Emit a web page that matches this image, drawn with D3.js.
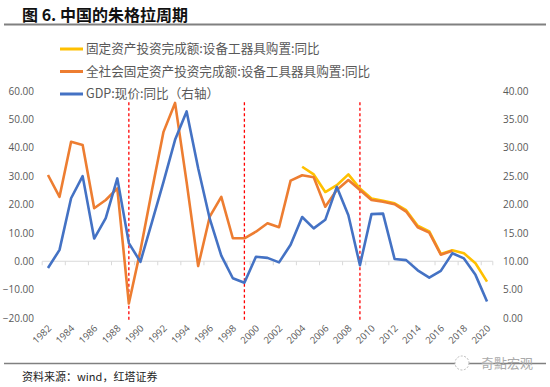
<!DOCTYPE html>
<html><head><meta charset="utf-8">
<script src="https://cdn.jsdelivr.net/npm/d3@7"></script>
<style>
html,body{margin:0;padding:0;background:#fff;}
svg{display:block;font-family:"Noto Sans CJK SC","Noto Sans",sans-serif;}
</style></head>
<body><svg id="c" width="550" height="387"></svg>
<script>
const years = d3.range(1982, 2021).map(String);
const tickLabels = years.filter((d,i)=>i%2===0);
const allSociety = [30.4,22.7,42.1,41.0,18.7,21.6,25.7,-14.9,3.8,25.0,45.6,55.8,27.9,-1.7,15.7,22.7,8.1,8.1,10.4,13.4,12.0,28.4,30.3,29.6,19.2,25.1,28.6,25.1,21.6,21.0,20.1,17.5,12.0,10.1,2.3,3.7,null,null,null];
const fixedInv = [null,null,null,null,null,null,null,null,null,null,null,null,null,null,null,null,null,null,null,null,null,null,33.3,30.6,24.4,26.8,30.6,25.6,22.1,21.3,20.4,18.0,12.5,10.5,2.6,3.9,2.8,-0.7,-7.2];
const gdp = [8.8,12.0,21.1,25.0,14.0,17.6,24.6,13.2,9.9,16.9,24.0,31.4,36.4,26.4,17.5,11.0,7.0,6.2,10.8,10.6,9.8,12.9,17.8,15.8,17.3,23.1,18.1,9.3,18.3,18.4,10.4,10.2,8.4,7.1,8.3,11.4,10.5,7.6,2.9];
const leftTicks = [60,50,40,30,20,10,0,-10,-20];
const rightTicks = [40,35,30,25,20,15,10,5,0];
const cycleYears = ["1989","1999","2009"];
const legendNames = ["固定资产投资完成额:设备工器具购置:同比","全社会固定资产投资完成额:设备工具器具购置:同比","GDP:现价:同比（右轴）"];
const colors = ["#FFC000","#ED7D31","#4472C4"];

const svg = d3.select("#c");
const x = d3.scaleBand().domain(years).range([42.2, 492.8]);
const cx = d => x(d) + x.bandwidth()/2;
const yL = d3.scaleLinear().domain([-20,60]).range([318,91]);
const yR = d3.scaleLinear().domain([0,40]).range([318,91]);

// title
svg.append("text").attr("x",22).attr("y",21).attr("font-size",16).attr("font-weight","bold")
  .attr("fill","#111").text("图 6. 中国的朱格拉周期");
svg.append("line").attr("x1",4).attr("x2",546).attr("y1",24.5).attr("y2",24.5).attr("stroke","#808080").attr("stroke-width",2);

// left axis labels
const la = d3.axisLeft(yL).tickValues(leftTicks).tickFormat(d3.format(".2f")).tickSize(0).tickPadding(0);
const gL = svg.append("g").attr("transform","translate(34,0)").call(la);
gL.select(".domain").remove();
gL.selectAll("text").attr("fill","#595959").attr("font-size",10).attr("font-family","'Open Sans','Noto Sans',sans-serif");
const ra = d3.axisRight(yR).tickValues(rightTicks).tickFormat(d3.format(".2f")).tickSize(0).tickPadding(0);
const gR = svg.append("g").attr("transform","translate(503,0)").call(ra);
gR.select(".domain").remove();
gR.selectAll("text").attr("fill","#595959").attr("font-size",10).attr("font-family","'Open Sans','Noto Sans',sans-serif");

// zero axis line with ticks
const y0 = yL(0);
svg.append("line").attr("x1",x.range()[0]).attr("x2",x.range()[1]).attr("y1",y0).attr("y2",y0).attr("stroke","#d9d9d9").attr("stroke-width",1);
const tickPos = years.filter((d,i)=>i%2===0).map(d=>x(d)).concat([x.range()[1]]);
svg.selectAll("line.tk").data(tickPos).join("line").attr("class","tk")
  .attr("x1",d=>d).attr("x2",d=>d).attr("y1",y0).attr("y2",y0+4).attr("stroke","#d9d9d9");

// x labels
svg.append("g").selectAll("text").data(tickLabels).join("text")
  .attr("transform",d=>`translate(${cx(d)+4},${329}) rotate(-45)`)
  .attr("text-anchor","end").attr("font-size",9.5).attr("fill","#595959")
  .attr("font-family","'Open Sans','Noto Sans',sans-serif").text(d=>d);

// red dashed lines
svg.selectAll("line.cyc").data(cycleYears).join("line").attr("class","cyc")
  .attr("x1",d=>cx(d)).attr("x2",d=>cx(d)).attr("y1",yL(56)).attr("y2",yL(-21.5))
  .attr("stroke","#FF0000").attr("stroke-width",1.3).attr("stroke-dasharray","3,2.5");

// lines
const lineL = d3.line().defined(d=>d.v!=null).x(d=>cx(d.k)).y(d=>yL(d.v));
const lineR = d3.line().defined(d=>d.v!=null).x(d=>cx(d.k)).y(d=>yR(d.v));
const toPts = arr => years.map((k,i)=>({k, v: arr[i]}));
svg.append("path").datum(toPts(fixedInv)).attr("d",lineL).attr("fill","none").attr("stroke",colors[0]).attr("stroke-width",2.6).attr("stroke-linejoin","round");
svg.append("path").datum(toPts(allSociety)).attr("d",lineL).attr("fill","none").attr("stroke",colors[1]).attr("stroke-width",2.6).attr("stroke-linejoin","round");
svg.append("path").datum(toPts(gdp)).attr("d",lineR).attr("fill","none").attr("stroke",colors[2]).attr("stroke-width",2.6).attr("stroke-linejoin","round");

// legend
const lg = svg.append("g");
legendNames.forEach((n,i)=>{
  const yy = 49 + i*22.5;
  lg.append("rect").attr("x",60).attr("y",yy-1.5).attr("width",23).attr("height",3).attr("fill",colors[i]);
  lg.append("text").attr("x",86).attr("y",yy+4.3).attr("font-size",12.6).attr("fill","#595959").text(n);
});

// footer
svg.append("line").attr("x1",4).attr("x2",546).attr("y1",363.5).attr("y2",363.5).attr("stroke","#808080").attr("stroke-width",1.5);
svg.append("text").attr("x",22).attr("y",381).attr("font-size",11).attr("fill","#222").text("资料来源：wind，红塔证券");
// watermark
svg.append("circle").attr("cx",462).attr("cy",363).attr("r",7).attr("fill","#fff").attr("stroke","#bbb").attr("stroke-dasharray","2,1.5");
svg.append("text").attr("x",481).attr("y",368).attr("font-size",13).attr("fill","#aaa").text("奇點宏观");
</script></body></html>
